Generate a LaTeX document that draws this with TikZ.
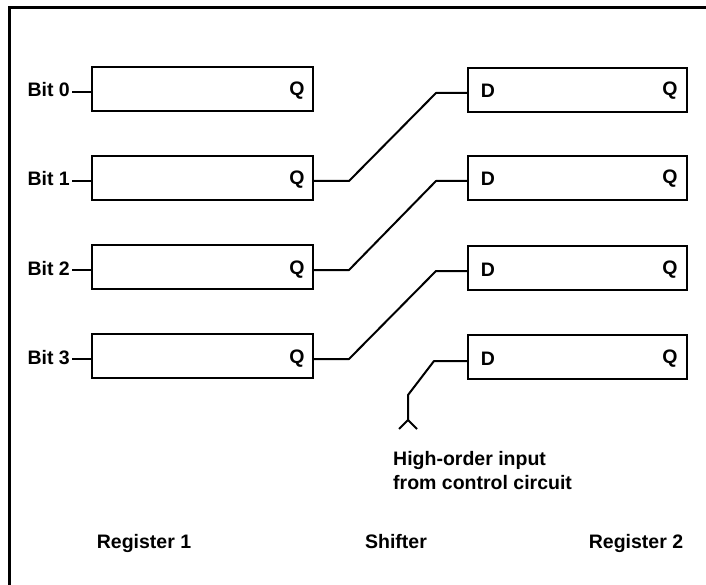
\documentclass[tikz,border=0pt]{standalone}
\usepackage{fontspec}
\setmainfont{Liberation Sans}
\usetikzlibrary{calc}
\begin{document}
\begin{tikzpicture}[x=1pt,y=-1pt,
  txt/.style={font=\fontsize{19.5}{24}\selectfont\bfseries, inner sep=0pt},
  regbox/.style={draw, line width=2pt, minimum height=44pt, inner sep=0pt},
  wire/.style={line width=2pt, line join=round}]
\useasboundingbox (0,0) rectangle (706,585);
\fill[white] (0,0) rectangle (706,585);
\draw[line width=3pt] (9,585) -- (9,8) -- (706,8);

% Register 1
\foreach \i/\y in {0/89,1/178,2/267,3/356}{
  \node[regbox, minimum width=221pt] (ra\i) at (202.5,\y) {};
  \node[txt, anchor=base] (qa\i) at (297,\y+7) {Q};
  \node[txt, anchor=base east] (bit\i) at (70,\y+8) {Bit \i};
  \draw[wire] ($(ra\i.west)+(0,3)$) -- ($(ra\i.west)+(-19,3)$);
}
% Register 2
\foreach \i/\y in {0/90,1/178,2/268,3/357}{
  \node[regbox, minimum width=219pt] (rb\i) at (577.5,\y) {};
  \node[txt, anchor=base] (qb\i) at (670,\y+6) {Q};
  \node[txt, anchor=base] (db\i) at (488,\y+8) {D};
}
% Shifter wires
\foreach \a/\b in {1/0,2/1,3/2}{
  \draw[wire] ($(ra\a.east)+(0,3)$) -- ++(35,0) -- ($(rb\b.west)+(-31,3)$) -- ($(rb\b.west)+(0,3)$);
}
% High-order input
\coordinate (hi) at (408,420);
\draw[wire] ($(rb3.west)+(0,4)$) -- ++(-33,0) -- (408,395) -- (hi);
\draw[wire] (399,429) -- (hi) -- (417,429);
\node[txt, anchor=base west, align=left] (hotext) at (393,489) {High-order input\\from control circuit};

% Column labels
\node[txt, anchor=base] (lab1) at (144,548) {Register 1};
\node[txt, anchor=base] (lab2) at (396,548) {Shifter};
\node[txt, anchor=base] (lab3) at (636,548) {Register 2};
\end{tikzpicture}
\end{document}
